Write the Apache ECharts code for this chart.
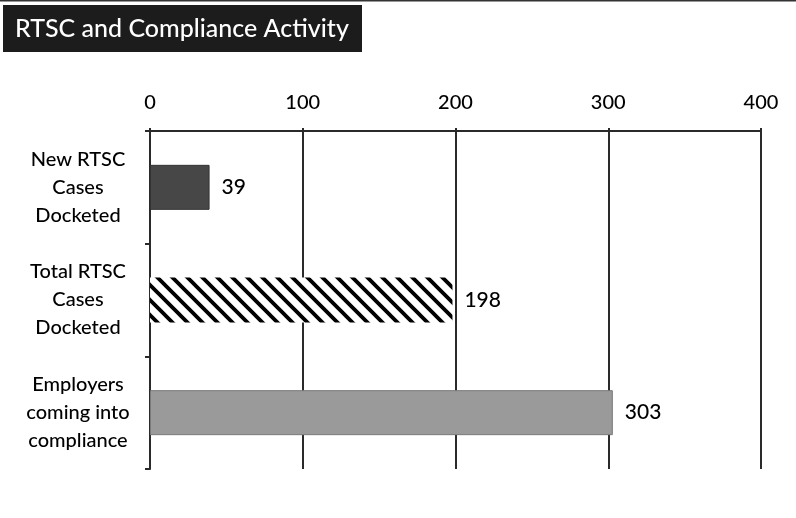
<!DOCTYPE html>
<html>
<head>
<meta charset="utf-8">
<script src="https://cdn.jsdelivr.net/npm/echarts@6/dist/echarts.min.js"></script>
<style>
  html, body { margin: 0; padding: 0; background: #fff; }
  #chart { width: 796px; height: 518px; }
</style>
</head>
<body>
<div id="chart"></div>
<script>
// Chart data
var categories = ['New RTSC\nCases\nDocketed', 'Total RTSC\nCases\nDocketed', 'Employers\ncoming into\ncompliance'];
var values = [39, 198, 303];
var axisTicks = { min: 0, max: 400, interval: 100 };
var titleText = 'RTSC and Compliance Activity';

// Diagonal hatch fill for the middle bar
function hatchPattern() {
  var s = 15;
  var c = document.createElement('canvas');
  c.width = s; c.height = s;
  var g = c.getContext('2d');
  g.fillStyle = '#ffffff';
  g.fillRect(0, 0, s, s);
  g.strokeStyle = '#000000';
  g.lineWidth = 3.8;
  g.beginPath();
  g.moveTo(-s, -s); g.lineTo(2 * s, 2 * s);
  g.moveTo(-s, 0); g.lineTo(s, 2 * s);
  g.moveTo(0, -s); g.lineTo(2 * s, s);
  g.stroke();
  return c;
}

var fills = [
  { color: '#474747', borderColor: '#333333', borderWidth: 1 },
  { color: { image: hatchPattern(), repeat: 'repeat' }, borderWidth: 0 },
  { color: '#9a9a9a', borderColor: '#7a7a7a', borderWidth: 1 }
];

var font = 'Lato, "Open Sans", sans-serif';
var chart = echarts.init(document.getElementById('chart'), null, { renderer: 'canvas' });

chart.setOption({
  animation: false,
  backgroundColor: '#ffffff',
  textStyle: { fontFamily: font },
  grid: { left: 150, right: 35, top: 131, bottom: 49, containLabel: false },
  xAxis: {
    type: 'value',
    position: 'top',
    min: axisTicks.min,
    max: axisTicks.max,
    interval: axisTicks.interval,
    axisLine: { show: true, lineStyle: { color: '#2a2a2a', width: 2 } },
    axisTick: { show: true, length: 3, lineStyle: { color: '#2a2a2a', width: 2 } },
    axisLabel: { color: '#000', fontSize: 20, fontWeight: 500, margin: 18, fontFamily: font },
    splitLine: { show: true, lineStyle: { color: '#2a2a2a', width: 2 } }
  },
  yAxis: {
    type: 'category',
    inverse: true,
    data: categories,
    axisLine: { show: true, lineStyle: { color: '#2a2a2a', width: 2 } },
    axisTick: { show: true, length: 5, lineStyle: { color: '#2a2a2a', width: 2 } },
    axisLabel: {
      color: '#000', fontSize: 20, fontWeight: 500, lineHeight: 28, align: 'center', margin: 72, fontFamily: font
    },
    splitLine: { show: false }
  },
  series: [{
    type: 'bar',
    barWidth: 45,
    data: values.map(function (v, i) {
      return { value: v, itemStyle: fills[i] };
    }),
    label: {
      show: true,
      position: 'right',
      distance: 12,
      color: '#000',
      fontSize: 21,
      fontWeight: 500,
      fontFamily: font
    }
  }],
  graphic: [
    {
      type: 'line',
      shape: { x1: 0, y1: 0.5, x2: 796, y2: 0.5 },
      style: { stroke: '#333', lineWidth: 2 }
    },
    {
      type: 'group',
      left: 3,
      top: 5,
      children: [
        {
          type: 'rect',
          shape: { x: 0, y: 0, width: 359, height: 47 },
          style: { fill: '#1c1c1c' }
        },
        {
          type: 'text',
          x: 12,
          y: 24,
          style: {
            text: titleText,
            fill: '#ffffff',
            font: '500 25px ' + font,
            textVerticalAlign: 'middle'
          }
        }
      ]
    }
  ]
});
</script>
</body>
</html>
